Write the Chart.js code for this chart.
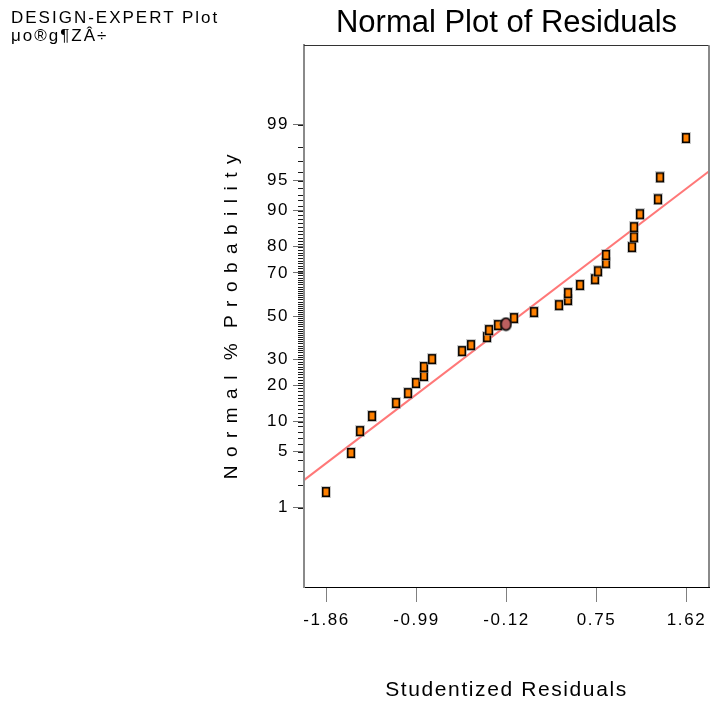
<!DOCTYPE html>
<html>
<head>
<meta charset="utf-8">
<title>Normal Plot of Residuals</title>
<script src="https://cdn.jsdelivr.net/npm/chart.js@4.4.1/dist/chart.umd.min.js"></script>
<style>
  html, body { margin: 0; padding: 0; background: #fff; }
  #wrap { position: relative; width: 711px; height: 703px; }
  #plotInfo {
    position: absolute; left: 11px; top: 9px;
    font: 17px/18px "Liberation Sans", Arial, sans-serif;
    letter-spacing: 2px; color: #000;
  }
</style>
</head>
<body>
<div id="wrap">
  <canvas id="residualChart" width="711" height="703"></canvas>
  <div id="plotInfo">DESIGN-EXPERT Plot<br>μo®g¶ZÂ÷</div>
</div>
<script>
// values (x = studentized residual, p = normal % probability)
const residuals = [-1.865, -1.623, -1.536, -1.42, -1.188, -1.072, -0.995, -0.918, -0.918, -0.84,
  -0.55, -0.463, -0.308, -0.289, -0.202, -0.047, 0.146, 0.388, 0.475, 0.475, 0.591, 0.736,
  0.765, 0.842, 0.842, 1.093, 1.113, 1.113, 1.17, 1.344, 1.364, 1.615];
const probabilities = [1.63, 4.82, 8.13, 11.24, 14.55, 17.49, 20.81, 23.33, 26.8, 30.08,
  33.54, 36.24, 39.94, 43.25, 45.65, 49.04, 51.94, 55.3, 57.7, 61.0, 64.7, 67.3,
  70.7, 74.0, 77.1, 79.9, 83.1, 86.0, 89.2, 92.2, 95.4, 98.47];

// the selected run (drawn as a circle)
const selectedResidual = [-0.125];
const selectedProbability = [46.13];

// normal reference line end points
const fitResiduals = [-2.0775, 1.8375];
const fitProbabilities = [2.32, 96.08];

const xTickValues = [-1.86, -0.99, -0.12, 0.75, 1.62];
const xRange = [-2.0775, 1.8375];
const yTickLabels = [1, 5, 10, 20, 30, 50, 70, 80, 90, 95, 99];
const yRangeZ = [-3.29, 3.29];
const minorTickPercents = [];
for (let p = 1; p <= 99; p++) minorTickPercents.push(p);

// inverse normal cdf (Acklam)
function probit(p) {
  const a = [-39.69683028665376, 220.9460984245205, -275.9285104469687, 138.357751867269, -30.66479806614716, 2.506628277459239];
  const b = [-54.47609879822406, 161.5858368580409, -155.6989798598866, 66.80131188771972, -13.28068155288572];
  const c = [-0.007784894002430293, -0.3223964580411365, -2.400758277161838, -2.549671010229528, 4.374664141464968, 2.938163982698783];
  const d = [0.007784695709041462, 0.3224671290700398, 2.445134137142996, 3.754408661907416];
  const plow = 0.02425;
  let q, r;
  if (p < plow) {
    q = Math.sqrt(-2 * Math.log(p));
    return (((((c[0] * q + c[1]) * q + c[2]) * q + c[3]) * q + c[4]) * q + c[5]) /
      ((((d[0] * q + d[1]) * q + d[2]) * q + d[3]) * q + 1);
  }
  if (p > 1 - plow) {
    q = Math.sqrt(-2 * Math.log(1 - p));
    return -(((((c[0] * q + c[1]) * q + c[2]) * q + c[3]) * q + c[4]) * q + c[5]) /
      ((((d[0] * q + d[1]) * q + d[2]) * q + d[3]) * q + 1);
  }
  q = p - 0.5;
  r = q * q;
  return (((((a[0] * r + a[1]) * r + a[2]) * r + a[3]) * r + a[4]) * r + a[5]) * q /
    (((((b[0] * r + b[1]) * r + b[2]) * r + b[3]) * r + b[4]) * r + 1);
}

const toPoints = (xs, ps) => xs.map((x, i) => ({ x: x, y: probit(ps[i] / 100) }));

function squareMarker() {
  const c = document.createElement("canvas");
  c.width = 10;
  c.height = 12;
  const g = c.getContext("2d");
  g.fillStyle = "rgba(150,150,150,0.5)";
  g.fillRect(0, 0, 10, 12);
  g.fillStyle = "#000";
  g.fillRect(1, 1, 8, 10);
  g.fillStyle = "#FF8000";
  g.fillRect(2.5, 2.5, 5, 7);
  return c;
}

function circleMarker() {
  const c = document.createElement("canvas");
  c.width = 13;
  c.height = 15;
  const g = c.getContext("2d");
  g.fillStyle = "rgba(140,140,140,0.5)";
  g.beginPath();
  g.ellipse(6.5, 7.5, 6.3, 7.3, 0, 0, Math.PI * 2);
  g.fill();
  g.fillStyle = "#BC5F5F";
  g.strokeStyle = "#000";
  g.lineWidth = 1.6;
  g.beginPath();
  g.ellipse(6.5, 7.5, 5, 6, 0, 0, Math.PI * 2);
  g.fill();
  g.stroke();
  return c;
}

// minor probability ticks, frame top/right, spaced axis text
const probitAxisPlugin = {
  id: "probitAxis",
  beforeDraw(chart) {
    chart.ctx.letterSpacing = "0px";
  },
  beforeDatasetsDraw(chart) {
    chart.ctx.letterSpacing = "1.6px";
  },
  afterDraw(chart) {
    const { ctx, chartArea: a, scales } = chart;
    ctx.save();
    ctx.strokeStyle = "#1a1a1a";
    ctx.lineWidth = 1;
    ctx.beginPath();
    minorTickPercents.forEach((p) => {
      const py = Math.round(scales.y.getPixelForValue(probit(p / 100))) + 0.5;
      ctx.moveTo(a.left - 6, py);
      ctx.lineTo(a.left - 1, py);
    });
    ctx.stroke();

    ctx.strokeStyle = "#333";
    ctx.beginPath();
    ctx.moveTo(a.left, Math.round(a.top) + 0.5);
    ctx.lineTo(a.right, Math.round(a.top) + 0.5);
    ctx.stroke();

    ctx.strokeStyle = "#8a8a8a";
    ctx.lineWidth = 2;
    ctx.beginPath();
    ctx.moveTo(a.right, a.top);
    ctx.lineTo(a.right, a.bottom);
    ctx.stroke();
    ctx.restore();
  },
};

const NormalPlotController = {
  chart: null,

  init() {
    Chart.defaults.font.family = '"Liberation Sans", Arial, sans-serif';
    Chart.defaults.color = "#000";
    this.render();
  },

  render() {
    const canvas = document.getElementById("residualChart");
    if (!canvas || typeof Chart === "undefined") return;

    this.chart = new Chart(canvas.getContext("2d"), {
      type: "scatter",
      data: {
        datasets: [
          {
            label: "Selected run",
            data: toPoints(selectedResidual, selectedProbability),
            pointStyle: circleMarker(),
            pointRadius: 7,
          },
          {
            label: "Residuals",
            data: toPoints(residuals, probabilities),
            pointStyle: squareMarker(),
            pointRadius: 5,
          },
          {
            label: "Normal line",
            data: toPoints(fitResiduals, fitProbabilities),
            showLine: true,
            borderColor: "#FF7878",
            borderWidth: 2,
            pointRadius: 0,
          },
        ],
      },
      options: {
        responsive: false,
        animation: false,
        layout: { autoPadding: false, padding: { left: 210, right: 2, top: 0, bottom: 0 } },
        plugins: {
          legend: { display: false },
          tooltip: { enabled: false },
          title: {
            display: true,
            fullSize: false,
            text: "Normal Plot of Residuals",
            color: "#000",
            font: { size: 31, weight: "normal" },
            padding: { top: 5, bottom: 3 },
          },
        },
        scales: {
          x: {
            type: "linear",
            min: xRange[0],
            max: xRange[1],
            afterFit: (s) => {
              s.height = 116;
              s.paddingLeft = 0;
              s.paddingRight = 0;
            },
            afterBuildTicks: (axis) => {
              axis.ticks = xTickValues.map((v) => ({ value: v }));
            },
            ticks: {
              callback: (v) => v.toFixed(2),
              font: { size: 17 },
              color: "#000",
              padding: 8,
              maxRotation: 0,
              autoSkip: false,
              z: 1,
            },
            grid: { drawOnChartArea: false, tickLength: 15, color: "#808080", z: 1 },
            border: { color: "#000", width: 1, z: 1 },
            title: {
              display: true,
              text: "Studentized Residuals",
              color: "#000",
              font: { size: 21 },
              padding: { top: 0, bottom: 0 },
            },
          },
          y: {
            type: "linear",
            min: yRangeZ[0],
            max: yRangeZ[1],
            afterFit: (s) => {
              s.width = 94;
              s.paddingTop = 0;
              s.paddingBottom = 0;
            },
            afterBuildTicks: (axis) => {
              axis.ticks = yTickLabels.map((p) => ({ value: probit(p / 100) }));
            },
            ticks: {
              callback: (v, i) => String(yTickLabels[i]),
              font: { size: 17 },
              color: "#000",
              padding: 4,
              autoSkip: false,
              z: 1,
            },
            grid: { drawOnChartArea: false, tickLength: 11, color: "#707070", z: 1 },
            border: { color: "#8a8a8a", width: 2, z: 1 },
            title: {
              display: true,
              text: "N o r m a l  %  P r o b a b i l i t y",
              color: "#000",
              font: { size: 19 },
              padding: { top: 10, bottom: 0 },
            },
          },
        },
      },
      plugins: [probitAxisPlugin],
    });
  },
};

document.addEventListener("DOMContentLoaded", () => NormalPlotController.init());
</script>
</body>
</html>
